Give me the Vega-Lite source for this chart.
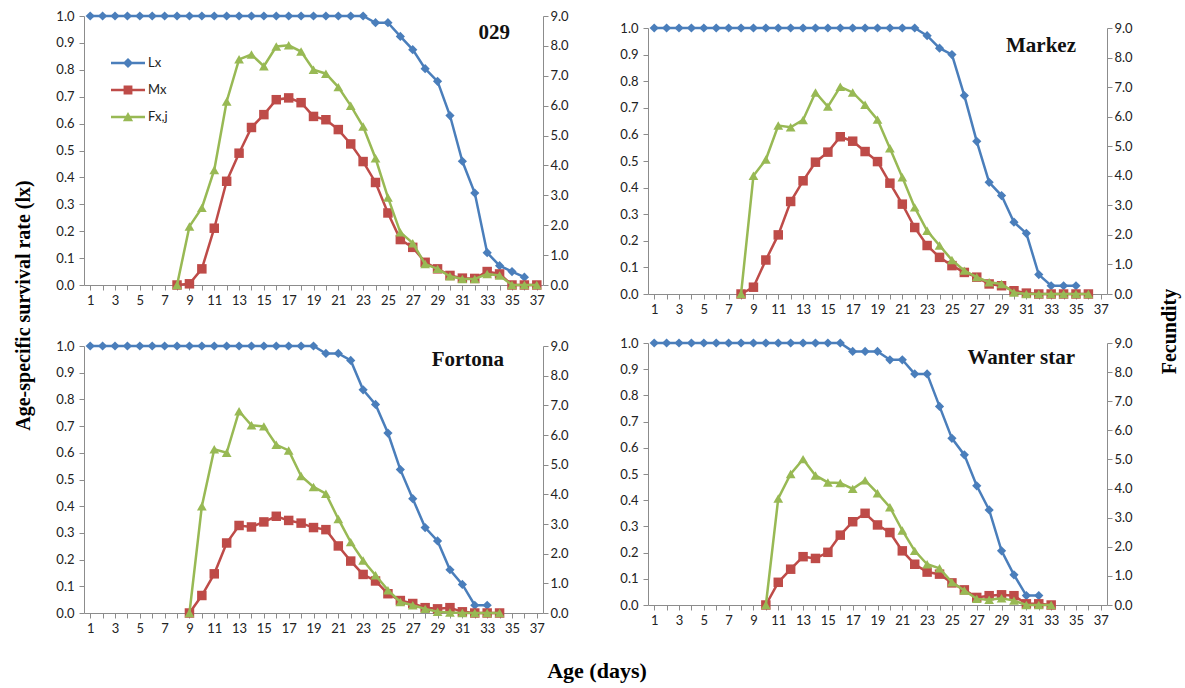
{
  "$schema": "https://vega.github.io/schema/vega-lite/v6.json",
  "padding": {"left": 13, "top": 10, "right": 5, "bottom": 5},
  "datasets": {
    "t": [
      {"p":"029","d":1,"Lx":1},{"p":"029","d":2,"Lx":1},{"p":"029","d":3,"Lx":1},{"p":"029","d":4,"Lx":1},{"p":"029","d":5,"Lx":1},{"p":"029","d":6,"Lx":1},{"p":"029","d":7,"Lx":1},
      {"p":"029","d":8,"Lx":1,"Mx":0,"Fx":0},
      {"p":"029","d":9,"Lx":1,"Mx":0.04,"Fx":1.96},
      {"p":"029","d":10,"Lx":1,"Mx":0.54,"Fx":2.58},
      {"p":"029","d":11,"Lx":1,"Mx":1.9,"Fx":3.85},
      {"p":"029","d":12,"Lx":1,"Mx":3.47,"Fx":6.14},
      {"p":"029","d":13,"Lx":1,"Mx":4.41,"Fx":7.55},
      {"p":"029","d":14,"Lx":1,"Mx":5.27,"Fx":7.71},
      {"p":"029","d":15,"Lx":1,"Mx":5.7,"Fx":7.32},
      {"p":"029","d":16,"Lx":1,"Mx":6.2,"Fx":7.98},
      {"p":"029","d":17,"Lx":1,"Mx":6.26,"Fx":8.02},
      {"p":"029","d":18,"Lx":1,"Mx":6.1,"Fx":7.81},
      {"p":"029","d":19,"Lx":1,"Mx":5.64,"Fx":7.2},
      {"p":"029","d":20,"Lx":1,"Mx":5.53,"Fx":7.07},
      {"p":"029","d":21,"Lx":1,"Mx":5.2,"Fx":6.62},
      {"p":"029","d":22,"Lx":1,"Mx":4.72,"Fx":6.0},
      {"p":"029","d":23,"Lx":1,"Mx":4.13,"Fx":5.3},
      {"p":"029","d":24,"Lx":0.975,"Mx":3.43,"Fx":4.24},
      {"p":"029","d":25,"Lx":0.975,"Mx":2.41,"Fx":2.93},
      {"p":"029","d":26,"Lx":0.924,"Mx":1.52,"Fx":1.76},
      {"p":"029","d":27,"Lx":0.875,"Mx":1.26,"Fx":1.4},
      {"p":"029","d":28,"Lx":0.804,"Mx":0.76,"Fx":0.7},
      {"p":"029","d":29,"Lx":0.757,"Mx":0.54,"Fx":0.54},
      {"p":"029","d":30,"Lx":0.63,"Mx":0.32,"Fx":0.29},
      {"p":"029","d":31,"Lx":0.46,"Mx":0.23,"Fx":0.2},
      {"p":"029","d":32,"Lx":0.342,"Mx":0.22,"Fx":0.2},
      {"p":"029","d":33,"Lx":0.12,"Mx":0.45,"Fx":0.37},
      {"p":"029","d":34,"Lx":0.072,"Mx":0.37,"Fx":0.32},
      {"p":"029","d":35,"Lx":0.05,"Mx":0,"Fx":0},
      {"p":"029","d":36,"Lx":0.029,"Mx":0,"Fx":0},
      {"p":"029","d":37,"Mx":0,"Fx":0},

      {"p":"Markez","d":1,"Lx":1},{"p":"Markez","d":2,"Lx":1},{"p":"Markez","d":3,"Lx":1},{"p":"Markez","d":4,"Lx":1},{"p":"Markez","d":5,"Lx":1},{"p":"Markez","d":6,"Lx":1},{"p":"Markez","d":7,"Lx":1},
      {"p":"Markez","d":8,"Lx":1,"Mx":0,"Fx":0},
      {"p":"Markez","d":9,"Lx":1,"Mx":0.23,"Fx":4.0},
      {"p":"Markez","d":10,"Lx":1,"Mx":1.15,"Fx":4.55},
      {"p":"Markez","d":11,"Lx":1,"Mx":2.0,"Fx":5.7},
      {"p":"Markez","d":12,"Lx":1,"Mx":3.13,"Fx":5.64},
      {"p":"Markez","d":13,"Lx":1,"Mx":3.83,"Fx":5.89},
      {"p":"Markez","d":14,"Lx":1,"Mx":4.46,"Fx":6.82},
      {"p":"Markez","d":15,"Lx":1,"Mx":4.8,"Fx":6.34},
      {"p":"Markez","d":16,"Lx":1,"Mx":5.32,"Fx":7.01},
      {"p":"Markez","d":17,"Lx":1,"Mx":5.17,"Fx":6.82},
      {"p":"Markez","d":18,"Lx":1,"Mx":4.82,"Fx":6.4},
      {"p":"Markez","d":19,"Lx":1,"Mx":4.48,"Fx":5.9},
      {"p":"Markez","d":20,"Lx":1,"Mx":3.75,"Fx":4.93},
      {"p":"Markez","d":21,"Lx":1,"Mx":3.04,"Fx":3.95},
      {"p":"Markez","d":22,"Lx":1,"Mx":2.25,"Fx":2.93},
      {"p":"Markez","d":23,"Lx":0.971,"Mx":1.64,"Fx":2.14},
      {"p":"Markez","d":24,"Lx":0.924,"Mx":1.24,"Fx":1.64},
      {"p":"Markez","d":25,"Lx":0.9,"Mx":0.96,"Fx":1.15},
      {"p":"Markez","d":26,"Lx":0.746,"Mx":0.73,"Fx":0.79},
      {"p":"Markez","d":27,"Lx":0.574,"Mx":0.57,"Fx":0.57},
      {"p":"Markez","d":28,"Lx":0.42,"Mx":0.34,"Fx":0.4},
      {"p":"Markez","d":29,"Lx":0.37,"Mx":0.28,"Fx":0.34},
      {"p":"Markez","d":30,"Lx":0.27,"Mx":0.11,"Fx":0.05},
      {"p":"Markez","d":31,"Lx":0.228,"Mx":0.03,"Fx":0},
      {"p":"Markez","d":32,"Lx":0.073,"Mx":0,"Fx":0},
      {"p":"Markez","d":33,"Lx":0.031,"Mx":0,"Fx":0},
      {"p":"Markez","d":34,"Lx":0.031,"Mx":0,"Fx":0},
      {"p":"Markez","d":35,"Lx":0.031,"Mx":0,"Fx":0},
      {"p":"Markez","d":36,"Mx":0,"Fx":0},

      {"p":"Fortona","d":1,"Lx":1},{"p":"Fortona","d":2,"Lx":1},{"p":"Fortona","d":3,"Lx":1},{"p":"Fortona","d":4,"Lx":1},{"p":"Fortona","d":5,"Lx":1},{"p":"Fortona","d":6,"Lx":1},{"p":"Fortona","d":7,"Lx":1},{"p":"Fortona","d":8,"Lx":1},
      {"p":"Fortona","d":9,"Lx":1,"Mx":0,"Fx":0},
      {"p":"Fortona","d":10,"Lx":1,"Mx":0.59,"Fx":3.6},
      {"p":"Fortona","d":11,"Lx":1,"Mx":1.32,"Fx":5.52},
      {"p":"Fortona","d":12,"Lx":1,"Mx":2.36,"Fx":5.4},
      {"p":"Fortona","d":13,"Lx":1,"Mx":2.95,"Fx":6.8},
      {"p":"Fortona","d":14,"Lx":1,"Mx":2.9,"Fx":6.33},
      {"p":"Fortona","d":15,"Lx":1,"Mx":3.07,"Fx":6.29},
      {"p":"Fortona","d":16,"Lx":1,"Mx":3.26,"Fx":5.67},
      {"p":"Fortona","d":17,"Lx":1,"Mx":3.12,"Fx":5.48},
      {"p":"Fortona","d":18,"Lx":1,"Mx":3.03,"Fx":4.62},
      {"p":"Fortona","d":19,"Lx":1,"Mx":2.88,"Fx":4.25},
      {"p":"Fortona","d":20,"Lx":0.972,"Mx":2.81,"Fx":4.02},
      {"p":"Fortona","d":21,"Lx":0.972,"Mx":2.26,"Fx":3.17},
      {"p":"Fortona","d":22,"Lx":0.946,"Mx":1.75,"Fx":2.39},
      {"p":"Fortona","d":23,"Lx":0.836,"Mx":1.3,"Fx":1.77},
      {"p":"Fortona","d":24,"Lx":0.781,"Mx":1.08,"Fx":1.27},
      {"p":"Fortona","d":25,"Lx":0.674,"Mx":0.65,"Fx":0.77},
      {"p":"Fortona","d":26,"Lx":0.537,"Mx":0.42,"Fx":0.37},
      {"p":"Fortona","d":27,"Lx":0.428,"Mx":0.32,"Fx":0.26},
      {"p":"Fortona","d":28,"Lx":0.32,"Mx":0.18,"Fx":0.14},
      {"p":"Fortona","d":29,"Lx":0.27,"Mx":0.14,"Fx":0.04},
      {"p":"Fortona","d":30,"Lx":0.162,"Mx":0.18,"Fx":0.02},
      {"p":"Fortona","d":31,"Lx":0.107,"Mx":0.04,"Fx":0},
      {"p":"Fortona","d":32,"Lx":0.029,"Mx":0,"Fx":0},
      {"p":"Fortona","d":33,"Lx":0.029,"Mx":0,"Fx":0},
      {"p":"Fortona","d":34,"Mx":0,"Fx":0},

      {"p":"Wanter star","d":1,"Lx":1},{"p":"Wanter star","d":2,"Lx":1},{"p":"Wanter star","d":3,"Lx":1},{"p":"Wanter star","d":4,"Lx":1},{"p":"Wanter star","d":5,"Lx":1},{"p":"Wanter star","d":6,"Lx":1},{"p":"Wanter star","d":7,"Lx":1},{"p":"Wanter star","d":8,"Lx":1},{"p":"Wanter star","d":9,"Lx":1},
      {"p":"Wanter star","d":10,"Lx":1,"Mx":0,"Fx":0},
      {"p":"Wanter star","d":11,"Lx":1,"Mx":0.78,"Fx":3.66},
      {"p":"Wanter star","d":12,"Lx":1,"Mx":1.23,"Fx":4.5},
      {"p":"Wanter star","d":13,"Lx":1,"Mx":1.66,"Fx":5.01},
      {"p":"Wanter star","d":14,"Lx":1,"Mx":1.6,"Fx":4.45},
      {"p":"Wanter star","d":15,"Lx":1,"Mx":1.81,"Fx":4.21},
      {"p":"Wanter star","d":16,"Lx":1,"Mx":2.4,"Fx":4.19},
      {"p":"Wanter star","d":17,"Lx":0.968,"Mx":2.86,"Fx":3.99},
      {"p":"Wanter star","d":18,"Lx":0.968,"Mx":3.15,"Fx":4.28},
      {"p":"Wanter star","d":19,"Lx":0.968,"Mx":2.75,"Fx":3.84},
      {"p":"Wanter star","d":20,"Lx":0.936,"Mx":2.49,"Fx":3.36},
      {"p":"Wanter star","d":21,"Lx":0.936,"Mx":1.86,"Fx":2.56},
      {"p":"Wanter star","d":22,"Lx":0.882,"Mx":1.4,"Fx":1.86},
      {"p":"Wanter star","d":23,"Lx":0.882,"Mx":1.13,"Fx":1.4},
      {"p":"Wanter star","d":24,"Lx":0.758,"Mx":1.06,"Fx":1.26},
      {"p":"Wanter star","d":25,"Lx":0.636,"Mx":0.76,"Fx":0.78},
      {"p":"Wanter star","d":26,"Lx":0.573,"Mx":0.52,"Fx":0.5},
      {"p":"Wanter star","d":27,"Lx":0.455,"Mx":0.26,"Fx":0.21},
      {"p":"Wanter star","d":28,"Lx":0.363,"Mx":0.32,"Fx":0.18},
      {"p":"Wanter star","d":29,"Lx":0.207,"Mx":0.35,"Fx":0.23},
      {"p":"Wanter star","d":30,"Lx":0.115,"Mx":0.32,"Fx":0.15},
      {"p":"Wanter star","d":31,"Lx":0.036,"Mx":0.04,"Fx":0},
      {"p":"Wanter star","d":32,"Lx":0.036,"Mx":0.04,"Fx":0},
      {"p":"Wanter star","d":33,"Mx":0,"Fx":0}
    ]
  },
  "config": {
    "view": {"stroke": null},
    "axis": {"labelFont": "Lato", "labelFontSize": 13, "labelColor": "#222", "domainColor": "#8c8c8c", "tickColor": "#8c8c8c", "grid": false, "tickSize": 5, "labelFlush": false, "labelOverlap": false, "title": null},
    "axisX": {"labelPadding": 4},
    "axisY": {"labelPadding": 5}
  },
  "title": {"text": "Age (days)", "orient": "bottom", "anchor": "middle", "font": "Liberation Serif", "fontSize": 22, "fontWeight": "bold", "color": "#000", "offset": 26},
  "resolve": {"scale": {"color": "independent", "shape": "independent"}, "legend": {"color": "independent", "shape": "independent"}},
  "spacing": 50,
  "hconcat": [
    {
      "title": {"text": "Age-specific survival rate (lx)", "orient": "left", "anchor": "middle", "dx": 17, "font": "Liberation Serif", "fontSize": 20, "fontWeight": "bold", "color": "#000", "offset": 22},
      "resolve": {"scale": {"color": "independent", "shape": "independent"}, "legend": {"color": "independent", "shape": "independent"}},
      "spacing": 33,
      "vconcat": [
        {
          "width": 459, "height": 269,
          "title": {"text": "029", "anchor": "end", "frame": "group", "offset": -33, "dx": -33, "font": "Liberation Serif", "fontSize": 21, "fontWeight": "bold", "color": "#111"},
          "data": {"name": "t"},
          "transform": [{"filter": {"field": "p", "equal": "029"}}, {"fold": ["Lx", "Mx", "Fx"], "as": ["s", "v"]}, {"filter": "isValid(datum.v)"}],
          "encoding": {"x": {"field": "d", "type": "quantitative", "scale": {"domain": [0.5, 37.5], "nice": false, "zero": false}, "axis": {"values": [1,2,3,4,5,6,7,8,9,10,11,12,13,14,15,16,17,18,19,20,21,22,23,24,25,26,27,28,29,30,31,32,33,34,35,36,37], "labelExpr": "datum.value % 2 == 1 ? datum.label : ''"}}},
          "layer": [
            {
              "transform": [{"filter": {"field": "s", "equal": "Lx"}}],
              "encoding": {"y": {"field": "v", "type": "quantitative", "scale": {"domain": [0, 1], "nice": false}, "axis": {"orient": "left", "values": [0,0.1,0.2,0.3,0.4,0.5,0.6,0.7,0.8,0.9,1], "format": ".1f"}}},
              "layer": [
                {"mark": {"type": "line", "color": "#4A7EBB", "strokeWidth": 2.5}},
                {"mark": {"type": "point", "shape": "diamond", "filled": true, "size": 85, "color": "#4A7EBB", "opacity": 1}},
                {
                  "transform": [{"filter": "false"}],
                  "mark": {"type": "point", "filled": true, "opacity": 1},
                  "encoding": {
                    "color": {"field": "s", "type": "nominal", "scale": {"domain": ["Lx", "Mx", "Fx,j"], "range": ["#4A7EBB", "#BE4B48", "#98B954"]},
                      "legend": {"title": null, "orient": "none", "legendX": 27, "legendY": 30, "symbolSize": 1156, "symbolStrokeWidth": 0, "labelFont": "Lato", "labelFontSize": 13, "labelColor": "#222", "rowPadding": 3, "labelOffset": 3}},
                    "shape": {"field": "s", "type": "nominal", "scale": {"domain": ["Lx", "Mx", "Fx,j"], "range": ["M-1,-0.075H1V0.075H-1ZM0,-0.3L0.3,0L0,0.3L-0.3,0Z", "M-1,-0.075H1V0.075H-1ZM-0.26,-0.26H0.26V0.26H-0.26Z", "M-1,-0.075H1V0.075H-1ZM0,-0.3L0.3,0.25H-0.3Z"]},
                      "legend": {"title": null, "orient": "none", "legendX": 27, "legendY": 30, "symbolSize": 1156, "symbolStrokeWidth": 0, "labelFont": "Lato", "labelFontSize": 13, "labelColor": "#222", "rowPadding": 3, "labelOffset": 3}}
                  }
                }
              ]
            },
            {
              "encoding": {"y": {"field": "v", "type": "quantitative", "scale": {"domain": [0, 9], "nice": false}, "axis": {"orient": "right", "values": [0,1,2,3,4,5,6,7,8,9], "format": ".1f", "labelPadding": 2}}},
              "layer": [
                {"transform": [{"filter": {"field": "s", "equal": "Mx"}}], "mark": {"type": "line", "color": "#BE4B48", "strokeWidth": 2.5}},
                {"transform": [{"filter": {"field": "s", "equal": "Mx"}}], "mark": {"type": "point", "shape": "square", "filled": true, "size": 90, "color": "#BE4B48", "opacity": 1}},
                {"transform": [{"filter": {"field": "s", "equal": "Fx"}}], "mark": {"type": "line", "color": "#98B954", "strokeWidth": 2.5}},
                {"transform": [{"filter": {"field": "s", "equal": "Fx"}}], "mark": {"type": "point", "shape": "triangle-up", "filled": true, "size": 95, "color": "#98B954", "opacity": 1}}
              ]
            }
          ],
          "resolve": {"scale": {"y": "independent"}}
        },
        {
          "width": 459, "height": 267,
          "title": {"text": "Fortona", "anchor": "end", "frame": "group", "offset": -30, "dx": -39, "font": "Liberation Serif", "fontSize": 21, "fontWeight": "bold", "color": "#111"},
          "data": {"name": "t"},
          "transform": [{"filter": {"field": "p", "equal": "Fortona"}}, {"fold": ["Lx", "Mx", "Fx"], "as": ["s", "v"]}, {"filter": "isValid(datum.v)"}],
          "encoding": {"x": {"field": "d", "type": "quantitative", "scale": {"domain": [0.5, 37.5], "nice": false, "zero": false}, "axis": {"values": [1,2,3,4,5,6,7,8,9,10,11,12,13,14,15,16,17,18,19,20,21,22,23,24,25,26,27,28,29,30,31,32,33,34,35,36,37], "labelExpr": "datum.value % 2 == 1 ? datum.label : ''"}}},
          "layer": [
            {
              "transform": [{"filter": {"field": "s", "equal": "Lx"}}],
              "encoding": {"y": {"field": "v", "type": "quantitative", "scale": {"domain": [0, 1], "nice": false}, "axis": {"orient": "left", "values": [0,0.1,0.2,0.3,0.4,0.5,0.6,0.7,0.8,0.9,1], "format": ".1f"}}},
              "layer": [
                {"mark": {"type": "line", "color": "#4A7EBB", "strokeWidth": 2.5}},
                {"mark": {"type": "point", "shape": "diamond", "filled": true, "size": 85, "color": "#4A7EBB", "opacity": 1}}
              ]
            },
            {
              "encoding": {"y": {"field": "v", "type": "quantitative", "scale": {"domain": [0, 9], "nice": false}, "axis": {"orient": "right", "values": [0,1,2,3,4,5,6,7,8,9], "format": ".1f", "labelPadding": 2}}},
              "layer": [
                {"transform": [{"filter": {"field": "s", "equal": "Mx"}}], "mark": {"type": "line", "color": "#BE4B48", "strokeWidth": 2.5}},
                {"transform": [{"filter": {"field": "s", "equal": "Mx"}}], "mark": {"type": "point", "shape": "square", "filled": true, "size": 90, "color": "#BE4B48", "opacity": 1}},
                {"transform": [{"filter": {"field": "s", "equal": "Fx"}}], "mark": {"type": "line", "color": "#98B954", "strokeWidth": 2.5}},
                {"transform": [{"filter": {"field": "s", "equal": "Fx"}}], "mark": {"type": "point", "shape": "triangle-up", "filled": true, "size": 95, "color": "#98B954", "opacity": 1}}
              ]
            }
          ],
          "resolve": {"scale": {"y": "independent"}}
        }
      ]
    },
    {
      "title": {"text": "Fecundity", "orient": "right", "anchor": "middle", "angle": -90, "baseline": "top", "dx": -10, "font": "Liberation Serif", "fontSize": 20, "fontWeight": "bold", "color": "#000", "offset": 8},
      "resolve": {"scale": {"color": "independent", "shape": "independent"}, "legend": {"color": "independent", "shape": "independent"}},
      "spacing": 21,
      "vconcat": [
        {
          "spacing": 0,
          "vconcat": [
            {"width": 459, "height": 6, "data": {"values": []}, "mark": "point"},
            {
              "width": 459, "height": 266,
              "title": {"text": "Markez", "anchor": "end", "frame": "group", "offset": -34, "dx": -31, "font": "Liberation Serif", "fontSize": 21, "fontWeight": "bold", "color": "#111"},
              "data": {"name": "t"},
              "transform": [{"filter": {"field": "p", "equal": "Markez"}}, {"fold": ["Lx", "Mx", "Fx"], "as": ["s", "v"]}, {"filter": "isValid(datum.v)"}],
              "encoding": {"x": {"field": "d", "type": "quantitative", "scale": {"domain": [0.5, 37.5], "nice": false, "zero": false}, "axis": {"values": [1,2,3,4,5,6,7,8,9,10,11,12,13,14,15,16,17,18,19,20,21,22,23,24,25,26,27,28,29,30,31,32,33,34,35,36,37], "labelExpr": "datum.value % 2 == 1 ? datum.label : ''"}}},
              "layer": [
                {
                  "transform": [{"filter": {"field": "s", "equal": "Lx"}}],
                  "encoding": {"y": {"field": "v", "type": "quantitative", "scale": {"domain": [0, 1], "nice": false}, "axis": {"orient": "left", "values": [0,0.1,0.2,0.3,0.4,0.5,0.6,0.7,0.8,0.9,1], "format": ".1f"}}},
                  "layer": [
                    {"mark": {"type": "line", "color": "#4A7EBB", "strokeWidth": 2.5}},
                    {"mark": {"type": "point", "shape": "diamond", "filled": true, "size": 85, "color": "#4A7EBB", "opacity": 1}}
                  ]
                },
                {
                  "encoding": {"y": {"field": "v", "type": "quantitative", "scale": {"domain": [0, 9], "nice": false}, "axis": {"orient": "right", "values": [0,1,2,3,4,5,6,7,8,9], "format": ".1f", "labelPadding": 2}}},
                  "layer": [
                    {"transform": [{"filter": {"field": "s", "equal": "Mx"}}], "mark": {"type": "line", "color": "#BE4B48", "strokeWidth": 2.5}},
                    {"transform": [{"filter": {"field": "s", "equal": "Mx"}}], "mark": {"type": "point", "shape": "square", "filled": true, "size": 90, "color": "#BE4B48", "opacity": 1}},
                    {"transform": [{"filter": {"field": "s", "equal": "Fx"}}], "mark": {"type": "line", "color": "#98B954", "strokeWidth": 2.5}},
                    {"transform": [{"filter": {"field": "s", "equal": "Fx"}}], "mark": {"type": "point", "shape": "triangle-up", "filled": true, "size": 95, "color": "#98B954", "opacity": 1}}
                  ]
                }
              ],
              "resolve": {"scale": {"y": "independent"}}
            }
          ]
        },
        {
          "width": 459, "height": 262,
          "title": {"text": "Wanter star", "anchor": "end", "frame": "group", "offset": -31, "dx": -32, "font": "Liberation Serif", "fontSize": 21, "fontWeight": "bold", "color": "#111"},
          "data": {"name": "t"},
          "transform": [{"filter": {"field": "p", "equal": "Wanter star"}}, {"fold": ["Lx", "Mx", "Fx"], "as": ["s", "v"]}, {"filter": "isValid(datum.v)"}],
          "encoding": {"x": {"field": "d", "type": "quantitative", "scale": {"domain": [0.5, 37.5], "nice": false, "zero": false}, "axis": {"values": [1,2,3,4,5,6,7,8,9,10,11,12,13,14,15,16,17,18,19,20,21,22,23,24,25,26,27,28,29,30,31,32,33,34,35,36,37], "labelExpr": "datum.value % 2 == 1 ? datum.label : ''"}}},
          "layer": [
            {
              "transform": [{"filter": {"field": "s", "equal": "Lx"}}],
              "encoding": {"y": {"field": "v", "type": "quantitative", "scale": {"domain": [0, 1], "nice": false}, "axis": {"orient": "left", "values": [0,0.1,0.2,0.3,0.4,0.5,0.6,0.7,0.8,0.9,1], "format": ".1f"}}},
              "layer": [
                {"mark": {"type": "line", "color": "#4A7EBB", "strokeWidth": 2.5}},
                {"mark": {"type": "point", "shape": "diamond", "filled": true, "size": 85, "color": "#4A7EBB", "opacity": 1}}
              ]
            },
            {
              "encoding": {"y": {"field": "v", "type": "quantitative", "scale": {"domain": [0, 9], "nice": false}, "axis": {"orient": "right", "values": [0,1,2,3,4,5,6,7,8,9], "format": ".1f", "labelPadding": 2}}},
              "layer": [
                {"transform": [{"filter": {"field": "s", "equal": "Mx"}}], "mark": {"type": "line", "color": "#BE4B48", "strokeWidth": 2.5}},
                {"transform": [{"filter": {"field": "s", "equal": "Mx"}}], "mark": {"type": "point", "shape": "square", "filled": true, "size": 90, "color": "#BE4B48", "opacity": 1}},
                {"transform": [{"filter": {"field": "s", "equal": "Fx"}}], "mark": {"type": "line", "color": "#98B954", "strokeWidth": 2.5}},
                {"transform": [{"filter": {"field": "s", "equal": "Fx"}}], "mark": {"type": "point", "shape": "triangle-up", "filled": true, "size": 95, "color": "#98B954", "opacity": 1}}
              ]
            }
          ],
          "resolve": {"scale": {"y": "independent"}}
        }
      ]
    }
  ]
}
